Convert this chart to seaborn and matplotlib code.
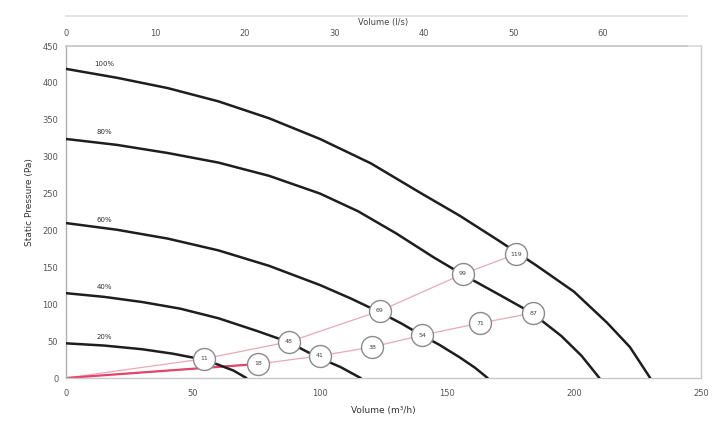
import numpy as np
import pandas as pd
import matplotlib
matplotlib.use("Agg")
import matplotlib.pyplot as plt
import seaborn as sns

# fan curves: volume (m3/h) vs static pressure (Pa)
curve_names = ["100%", "80%", "60%", "40%", "20%"]
x_100 = [0, 20, 40, 60, 80, 100, 120, 140, 155, 170, 185, 200, 213, 222, 230]
y_100 = [419, 407, 393, 375, 352, 324, 291, 250, 220, 187, 153, 117, 75, 42, 0]
x_80 = [0, 20, 40, 60, 80, 100, 115, 130, 145, 156.3, 170, 183.5, 195, 203, 210]
y_80 = [324, 316, 305, 292, 274, 250, 226, 196, 163, 140, 114, 88, 57, 30, 0]
x_60 = [0, 20, 40, 60, 80, 100, 112, 123.6, 132, 140, 147, 155, 161, 166]
y_60 = [210, 201, 189, 173, 152, 126, 108, 89, 74, 58, 45, 28, 14, 0]
x_40 = [0, 15, 30, 45, 60, 75, 87.4, 99.2, 108, 116]
y_40 = [115, 110, 103, 94, 81, 64, 49, 28, 15, 0]
x_20 = [0, 15, 30, 42, 54, 60, 66, 71]
y_20 = [47, 44, 39, 33, 25, 18, 10, 0]

# operating points (circles) on the two system lines
upper_x = [0, 54.3, 87.8, 123.6, 156.3, 177.2]
upper_y = [0, 26, 49, 91, 141, 168]
upper_lbl = ["", "11", "48", "69", "99", "119"]
lower_x = [0, 75.6, 100, 120.5, 140.2, 163, 183.9]
lower_y = [0, 19, 30, 42, 58, 74.5, 88]
lower_lbl = ["", "18", "41", "38", "54", "71", "87"]

label_y = [425, 333, 214, 123, 56]

xs = [x_100, x_80, x_60, x_40, x_20]
ys = [y_100, y_80, y_60, y_40, y_20]
curves = pd.concat([pd.DataFrame({"vol": x, "p": y, "speed": n})
                    for x, y, n in zip(xs, ys, curve_names)], ignore_index=True)

sns.set_theme(style="white")
plt.rcParams["font.family"] = ["DejaVu Sans"]

fig = plt.figure(figsize=(7.14, 4.28), dpi=100)
ax = fig.add_axes([0.0924, 0.1168, 0.8894, 0.7757])

sns.lineplot(data=curves, x="vol", y="p", units="speed", estimator=None,
             color="#1e1e1e", lw=1.8, sort=False, ax=ax, zorder=3)

# system lines
sns.lineplot(x=upper_x, y=upper_y, color="#e9a9b6", lw=0.9, sort=False, ax=ax, zorder=2)
sns.lineplot(x=lower_x, y=lower_y, color="#e9a9b6", lw=0.9, sort=False, ax=ax, zorder=2)
sns.lineplot(x=lower_x[:2], y=lower_y[:2], color="#e2456c", lw=1.6, sort=False, ax=ax, zorder=2)

pts = pd.DataFrame({"vol": upper_x[1:] + lower_x[1:], "p": upper_y[1:] + lower_y[1:],
                    "lbl": upper_lbl[1:] + lower_lbl[1:]})
sns.scatterplot(data=pts, x="vol", y="p", s=250, color="white", edgecolor="#8a8a8a",
                linewidth=1.0, ax=ax, zorder=4)
for _, r in pts.iterrows():
    ax.text(r.vol, r.p, r.lbl, ha="center", va="center", fontsize=4.5,
            color="#444444", zorder=5)

for n, x, y in zip(curve_names, [15] * 5, label_y):
    ax.text(x, y, n, fontsize=5, color="#333333", ha="center", va="center")

ax.set_xlim(0, 250)
ax.set_ylim(0, 450)
ax.set_xticks(np.arange(0, 251, 50))
ax.set_yticks(np.arange(0, 451, 50))
ax.tick_params(labelsize=6, colors="#555555", length=2, direction="out")
ax.tick_params(axis="x", pad=6)
ax.set_xlabel("Volume (m³/h)", fontsize=6.5, color="#333333")
ax.set_ylabel("Static Pressure (Pa)", fontsize=6.5, color="#333333")
ax.xaxis.set_label_coords(0.5, -0.085)
ax.yaxis.set_label_coords(-0.05, 0.53)
for side in ["left", "bottom", "right"]:
    ax.spines[side].set_color("#c8c8c8")
    ax.spines[side].set_linewidth(1.0)
ax.spines["left"].set_color("#b0b0b0")
ax.spines["top"].set_color("#d8d8d8")

# top strip with the l/s scale
axt = fig.add_axes([0.0924, 0.8925, 0.870, 0.070])
axt.set_xlim(0, 250 / 3.6)
axt.set_ylim(0, 1)
axt.set_yticks([])
axt.set_xticks([])
for v in range(0, 70, 10):
    axt.text(v, 0.43, str(v), fontsize=6, color="#555555", ha="center", va="center")
axt.text(35.5, 0.77, "Volume (l/s)", fontsize=6, color="#444444", ha="center", va="center")
for side in axt.spines:
    axt.spines[side].set_color("#e0e0e0")
axt.spines["left"].set_visible(False)
axt.spines["right"].set_visible(False)
axt.spines["bottom"].set_color("#c8c8c8")

fig.savefig("out.png", dpi=100, facecolor="white")
